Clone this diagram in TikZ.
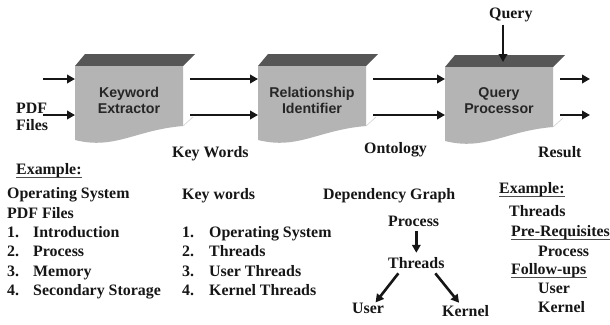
\documentclass[tikz,border=0pt]{standalone}
\usepackage{fontspec}
\setmainfont{Liberation Serif}
\newfontfamily\boxfont{Liberation Sans}
\usetikzlibrary{arrows.meta,calc}

\definecolor{faceGray}{HTML}{B4B4B4}
\definecolor{topGray}{HTML}{565656}
\definecolor{inkBlack}{HTML}{161616}

\tikzset{
  lbl/.style={inner sep=0pt, anchor=base west, align=left,
    font=\fontsize{15.9}{17}\selectfont\bfseries, text=inkBlack},
  boxtext/.style={inner sep=0pt, align=center,
    font=\boxfont\fontsize{14.2}{16}\selectfont\bfseries, text=black!85},
  arr/.style={line width=2.6pt, draw=inkBlack, -{Triangle[length=8pt,width=8.5pt]}},
  ulline/.style={line width=1.3pt, draw=black!70},
}

% processing stage: dark top face, grey front face with a wavy lower edge
\newcommand\procbox[4]{% name, x, y, label
  \begin{scope}[shift={(#2,#3)}]
    \fill[topGray] (0,0) -- (10,-12) -- (120,-12) -- (108,0) -- cycle;
    \fill[faceGray] (0,0) -- (108,0) -- (108,60)
      .. controls (60,64) and (40,84) .. (0,74) -- cycle;
    \draw[black!18, line width=0.6pt] (108,60) -- (118,51);
    \coordinate (#1-nw) at (0,0);
    \coordinate (#1-side) at (115,0);
    \coordinate (#1-top) at (58,-5);
    \node[boxtext] (#1) at (54,34) {#4};
  \end{scope}}

% underline below a text node
\newcommand\ulnode[1]{%
  \draw[ulline] ($(#1.base west)+(0,3.2)$) -- ($(#1.base east)+(0,3.2)$);}

\begin{document}
\begin{tikzpicture}[x=1pt,y=-1pt]
  \useasboundingbox (0,0) rectangle (610,324);
  \fill[white] (0,0) rectangle (610,324);

  % pipeline stages
  \procbox{kx}{75}{66}{Keyword\\Extractor}
  \procbox{rx}{258}{66}{Relationship\\Identifier}
  \procbox{qp}{445}{67}{Query\\Processor}

  % pipeline flow
  \coordinate (in1) at (43,79);
  \coordinate (in2) at (43,115);
  \coordinate (out1) at (590,79);
  \coordinate (out2) at (590,115);
  \draw[arr] (in1) -- (kx-nw |- in1);
  \draw[arr] (in2) -- (kx-nw |- in2);
  \draw[arr] (kx-side |- in1) -- (rx-nw |- in1);
  \draw[arr] (kx-side |- in2) -- (rx-nw |- in2);
  \draw[arr] (rx-side |- in1) -- (qp-nw |- in1);
  \draw[arr] (rx-side |- in2) -- (qp-nw |- in2);
  \draw[arr] (qp-side |- out1) -- (out1);
  \draw[arr] (qp-side |- out2) -- (out2);

  \node[lbl] (query) at (489,18) {Query};
  \draw[arr] ($(qp-top |- query.south)+(0,3)$) -- (qp-top);

  % stage labels
  \node[lbl] (pdf) at (16,130) {PDF\\Files};
  \node[lbl] (kw) at (172,157) {Key Words};
  \node[lbl] (onto) at (364,153) {Ontology};
  \node[lbl] (res) at (538,157) {Result};

  % example: input documents
  \node[lbl] (ex1) at (16,174) {Example:};
  \ulnode{ex1}
  \node[lbl] (os) at (7,198) {Operating System};
  \node[lbl] (pf) at (7,218) {PDF Files};
  \node[lbl] (ln1) at (7,237) {1.};
  \node[lbl] (lt1) at (33,237) {Introduction};
  \node[lbl] (ln2) at (7,256.5) {2.};
  \node[lbl] (lt2) at (33,256.5) {Process};
  \node[lbl] (ln3) at (7,276) {3.};
  \node[lbl] (lt3) at (33,276) {Memory};
  \node[lbl] (ln4) at (7,295) {4.};
  \node[lbl] (lt4) at (33,295) {Secondary Storage};

  % example: extracted key words
  \node[lbl] (kwh) at (182,199) {Key words};
  \node[lbl] (mn1) at (182,237) {1.};
  \node[lbl] (mt1) at (209,237) {Operating System};
  \node[lbl] (mn2) at (182,256.5) {2.};
  \node[lbl] (mt2) at (209,256.5) {Threads};
  \node[lbl] (mn3) at (182,276) {3.};
  \node[lbl] (mt3) at (209,276) {User Threads};
  \node[lbl] (mn4) at (182,295) {4.};
  \node[lbl] (mt4) at (209,295) {Kernel Threads};

  % example: dependency graph
  \node[lbl] (dg) at (323,199) {Dependency Graph};
  \node[lbl] (gp) at (388,226) {Process};
  \node[lbl] (gt) at (388,268) {Threads};
  \node[lbl] (gu) at (352,313) {User};
  \node[lbl] (gk) at (442,316) {Kernel};
  \draw[arr] ($(gt.north |- gp.south)+(0,5)$) -- ($(gt.north)+(0,-4)$);
  \draw[arr] ($(gt.south)+(-18,5)$) -- ($(gu.north)+(7.5,0)$);
  \draw[arr] ($(gt.south)+(19,5)$) -- ($(gk.north)+(-6.5,-2)$);

  % example: query result
  \node[lbl] (ex2) at (499,193) {Example:};
  \ulnode{ex2}
  \node[lbl] (rt) at (509,216) {Threads};
  \node[lbl] (pre) at (511,236) {Pre-Requisites};
  \ulnode{pre}
  \node[lbl] (rp) at (538,256) {Process};
  \node[lbl] (fol) at (511,274) {Follow-ups};
  \ulnode{fol}
  \node[lbl] (ru) at (538,293) {User};
  \node[lbl] (rk) at (538,312) {Kernel};
\end{tikzpicture}
\end{document}
